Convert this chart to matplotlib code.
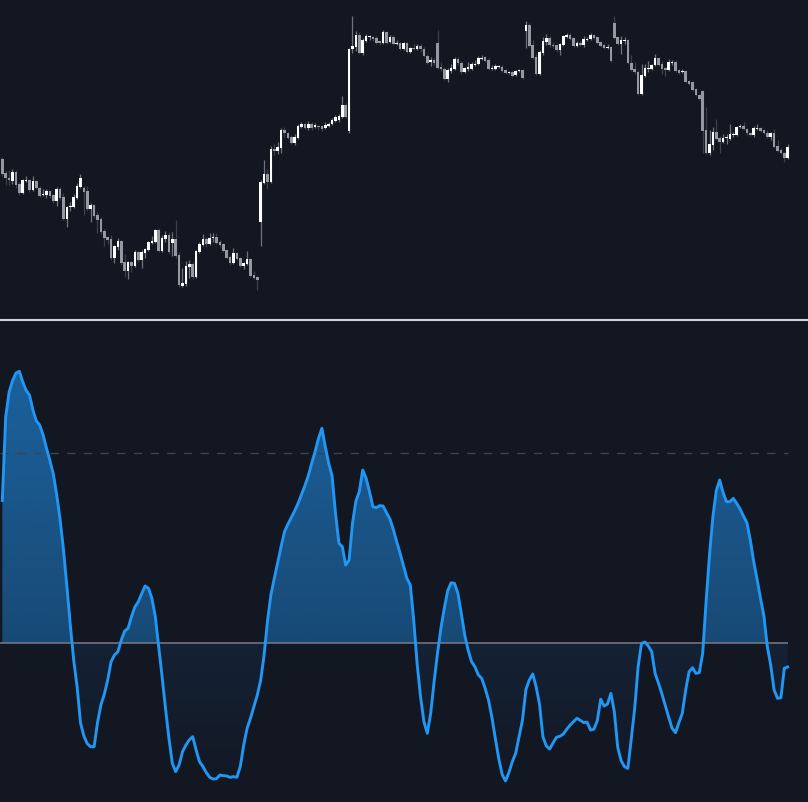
import numpy as np
import matplotlib
matplotlib.use("Agg")
import matplotlib.pyplot as plt
from matplotlib.path import Path
from matplotlib.patches import PathPatch
from matplotlib.lines import Line2D

# ---------------- data ----------------
opens = [
    161,147,142,139,148,136,127,139,140,130,
    139,132,125,125,129,125,119,131,123,101,
    113,113,122,133,132,129,111,115,105,101,
    89,83,81,62,73,79,58,49,58,54,
    68,60,67,70,77,78,90,69,81,85,
    77,81,65,34,36,53,56,43,68,75,
    81,76,82,83,78,76,70,63,57,67,
    62,54,56,61,45,43,98,137,146,138,
    171,169,172,190,187,183,177,182,193,196,
    192,196,193,194,194,192,194,196,199,200,
    203,215,189,271,273,285,267,279,283,283,
    282,279,277,288,278,283,276,277,271,277,
    268,272,271,274,271,264,258,260,277,253,
    251,241,249,251,261,257,248,251,251,255,
    256,261,263,260,251,251,253,253,250,247,
    248,245,249,250,289,295,275,263,246,267,
    278,282,275,275,270,275,283,285,282,274,
    277,275,280,281,285,283,278,275,272,273,
    297,283,276,279,280,257,251,248,226,244,
    251,251,255,262,256,252,250,257,258,250,
    248,249,239,238,231,225,229,190,167,175,
    188,182,178,182,181,185,185,193,194,191,
    187,185,191,192,190,187,183,187,174,170,
    167,162]
closes = [
    146,142,140,148,135,127,140,140,130,139,
    132,124,126,129,124,119,131,122,101,113,
    114,123,134,142,128,111,115,104,100,88,
    82,80,62,74,79,57,49,58,54,68,
    60,68,71,78,79,90,69,82,85,68,
    81,64,35,37,54,56,43,69,76,81,
    76,82,83,77,75,69,62,57,67,61,
    54,57,61,44,42,40,138,146,138,171,
    169,173,190,187,182,177,183,194,196,192,
    196,192,195,193,191,195,196,200,203,204,
    215,203,271,274,285,267,280,284,284,281,
    277,277,288,277,283,276,277,271,277,268,
    272,271,274,271,264,257,260,257,252,251,
    241,250,252,261,257,248,252,253,256,256,
    262,262,259,251,252,254,254,249,247,248,
    244,249,250,242,295,274,262,246,268,279,
    282,275,274,270,276,284,285,281,274,277,
    275,281,281,285,282,277,274,272,273,259,
    282,276,280,280,257,250,248,226,245,252,
    252,255,262,255,251,250,258,258,249,247,
    249,238,236,230,225,221,189,167,176,188,
    181,178,182,183,186,186,193,194,191,187,
    185,192,192,189,187,183,187,173,169,167,
    162,173]
highs = [
    163,149,150,151,150,138,141,144,141,144,
    140,134,131,131,130,126,133,133,127,114,
    118,126,137,146,134,134,117,116,108,103,
    91,84,85,75,82,80,66,59,59,70,
    69,70,72,79,84,91,92,85,89,88,
    88,100,68,52,59,60,58,70,78,86,
    83,87,87,87,80,77,71,65,72,68,
    63,58,69,62,49,44,140,160,151,174,
    176,178,192,193,188,185,186,196,198,197,
    199,198,197,195,195,198,198,202,205,206,
    224,217,272,304,289,288,282,286,285,284,
    284,280,290,289,285,285,280,278,278,278,
    273,276,276,276,273,266,263,262,290,258,
    253,252,256,263,263,259,253,258,258,260,
    264,265,264,262,255,256,255,255,251,249,
    249,250,251,251,299,297,280,266,270,283,
    286,284,278,276,277,285,287,287,283,279,
    279,284,283,287,286,284,279,277,276,274,
    304,284,284,283,281,265,258,250,256,256,
    259,256,266,263,259,253,261,260,260,251,
    251,250,240,239,232,226,230,213,190,193,
    201,184,186,186,196,188,194,196,198,192,
    188,194,196,193,191,190,188,191,180,172,
    168,176]
lows = [
    144,135,135,136,132,125,126,138,128,129,
    131,123,124,122,122,117,114,120,100,93,
    109,112,121,132,105,109,98,102,87,86,
    74,76,60,57,70,55,43,41,48,53,
    58,52,62,69,76,77,68,68,78,66,
    64,62,33,33,34,42,41,42,67,74,
    73,75,78,76,73,68,61,55,56,60,
    53,51,55,43,41,30,74,136,131,137,
    165,166,167,183,181,176,175,181,192,191,
    190,190,192,190,189,191,193,195,198,198,
    202,202,187,267,269,266,265,278,280,279,
    276,275,276,276,277,275,275,270,270,267,
    267,270,270,268,263,256,254,255,251,249,
    240,238,247,250,255,246,247,249,250,254,
    255,260,258,250,250,250,252,248,246,246,
    243,244,248,241,272,273,261,245,245,265,
    275,273,272,268,265,274,282,280,273,273,
    274,273,279,280,281,276,273,271,271,258,
    281,275,266,276,256,249,246,225,225,243,
    248,250,254,254,246,244,249,255,248,246,
    247,237,235,229,224,220,167,166,165,170,
    180,167,177,176,180,183,184,192,190,185,
    184,183,190,188,186,182,180,172,168,166,
    158,161]
osc = [
    75,119,132,138,142,143,137.5,133,130.5,122.6,
    117,114.7,109.5,102.5,96,89,78,65,49,29.6,
    9.5,-9,-23,-42,-49,-53,-54.6,-54.6,-42,-32.6,
    -27,-19.5,-9.8,-6.3,-4.6,1.6,6.3,7.7,13.9,19,
    21.7,26,30,28.8,23.5,13.9,-1.9,-17.7,-34.4,-50,
    -63.3,-67.7,-64.2,-57.2,-53.7,-51,-49.3,-56.3,-62.5,-65,
    -68.2,-70.7,-71.6,-71.4,-69.5,-69.8,-70,-70.7,-70.3,-70.7,
    -65,-53.7,-44.9,-39.6,-33.5,-27.4,-19.5,-6.3,11.5,25.3,
    34,42.3,50.7,58.6,62.5,66.1,69.6,73.5,78.2,82.8,
    88,94.6,100.7,107.7,113,103.3,94.6,87.9,68.2,52.5,
    50.7,41,43.7,63,74.7,79.6,91,86.7,79.6,71.8,
    71.2,72.3,72.1,68.6,65.3,59.8,53.3,47.2,40.5,34,
    30.5,12.1,-10.7,-28.2,-41.4,-47.5,-37,-20.4,-5.4,7.7,
    18.3,27.5,31.7,31.4,26.2,15.6,4.2,-3.7,-9.8,-12.5,
    -16.8,-18.6,-23.8,-30,-39.1,-50.2,-60.7,-69.1,-72.6,-68.2,
    -62.5,-58,-49.3,-40.5,-24.5,-19.5,-16.3,-23,-32.1,-49.3,
    -54.2,-55.8,-52.5,-49.6,-49.1,-47.9,-45.4,-43.2,-41.4,-39.6,
    -40.7,-41.9,-41.6,-45.8,-45.4,-40.9,-29.6,-33.2,-32.1,-26.5,
    -36.1,-54.9,-61.9,-65.1,-66,-50.2,-34.4,-12.5,-0.2,0.5,
    -1.6,-4.6,-16,-21.2,-26.8,-33,-39.1,-44.9,-47.2,-41.9,
    -37,-24.7,-15.1,-13,-16,-15.6,-5.4,21.7,46.3,66.5,
    80.2,85.8,79.1,74.4,74.4,76.1,73.5,70.5,66.8,63.3,
    54.2,42.8,33.5,23.5,14.2,-1.9,-11.6,-24.7,-29.1,-28.8,
    -13.3,-12.6]
upper_level = 100
zero_level = 0

# ---------------- style ----------------
BG = "#131722"
UP = "#ffffff"
DOWN = "#9598a1"
UP_WICK = "#6f727b"
DOWN_WICK = "#3c404b"
LINE = "#2196F3"

W, H = 808, 802
fig = plt.figure(figsize=(W / 100, H / 100), dpi=100, facecolor=BG)

top_h = 318
ax1 = fig.add_axes([0, 1 - top_h / H, 1, top_h / H])
bot_h = 481
ax2 = fig.add_axes([0, 0, 1, bot_h / H])
for ax in (ax1, ax2):
    ax.set_facecolor(BG)
    for s in ax.spines.values():
        s.set_visible(False)
    ax.set_xticks([])
    ax.set_yticks([])

n = len(closes)
x = np.arange(n)
o = np.array(opens, float)
c = np.array(closes, float)
hi = np.array(highs, float)
lo = np.array(lows, float)
up = c >= o

xlim = (-0.676, 236.97)

# wicks
ax1.vlines(x[up], lo[up], hi[up], color=UP_WICK, linewidth=0.9, zorder=1)
ax1.vlines(x[~up], lo[~up], hi[~up], color=DOWN_WICK, linewidth=0.9, zorder=1)
# bodies
bottoms = np.minimum(o, c)
heights = np.maximum(np.abs(c - o), 1.0)
ax1.bar(x[up], heights[up], bottom=bottoms[up], width=0.8, color=UP,
        linewidth=0, zorder=2)
ax1.bar(x[~up], heights[~up], bottom=bottoms[~up], width=0.8, color=DOWN,
        linewidth=0, zorder=2)
ax1.set_xlim(*xlim)
ax1.set_ylim(2, 320)

# ---------------- oscillator ----------------
v = np.array(osc, float)
y_lo, y_hi = -83.68, 169.47

def compound(coll):
    return Path.make_compound_path(*coll.get_paths())

pos = ax2.fill_between(x, v, zero_level, where=v >= zero_level,
                       interpolate=True, facecolor="none", edgecolor="none")
neg = ax2.fill_between(x, v, zero_level, where=v <= zero_level,
                       interpolate=True, facecolor="none", edgecolor="none")

rgb = np.array(matplotlib.colors.to_rgb(LINE))
N = 256
img = np.zeros((N, 2, 4))
img[..., :3] = rgb
img[..., 3] = np.linspace(0.62, 0.40, N)[:, None]
im1 = ax2.imshow(img, extent=[xlim[0], xlim[1], zero_level, y_hi],
                 aspect="auto", origin="upper", zorder=1, interpolation="bilinear")
p1 = PathPatch(compound(pos), transform=ax2.transData, facecolor="none",
               edgecolor="none")
ax2.add_patch(p1)
im1.set_clip_path(p1)

img2 = np.zeros((N, 2, 4))
img2[..., :3] = rgb
img2[..., 3] = np.linspace(0.09, 0.0, N)[:, None]
im2 = ax2.imshow(img2, extent=[xlim[0], xlim[1], y_lo, zero_level],
                 aspect="auto", origin="upper", zorder=1, interpolation="bilinear")
p2 = PathPatch(compound(neg), transform=ax2.transData, facecolor="none",
               edgecolor="none")
ax2.add_patch(p2)
im2.set_clip_path(p2)

ax2.hlines(upper_level, x[0] - 0.6, x[-1], colors="#3d424e", linewidth=1.0,
           linestyles=(0, (6, 6)), zorder=2)
ax2.hlines(zero_level, x[0] - 0.6, x[-1], colors="#787b86", linewidth=1.1,
           zorder=3)
ax2.plot(x, v, color=LINE, linewidth=2.1, zorder=4, solid_joinstyle="round")
ax2.set_xlim(*xlim)
ax2.set_ylim(y_lo, y_hi)

# separator
sep_y = 1 - 319.75 / H
fig.add_artist(Line2D([0, 1], [sep_y, sep_y], transform=fig.transFigure,
                      color="#d1d4dc", linewidth=1.5))

fig.savefig("out.png", dpi=100, facecolor=BG)
